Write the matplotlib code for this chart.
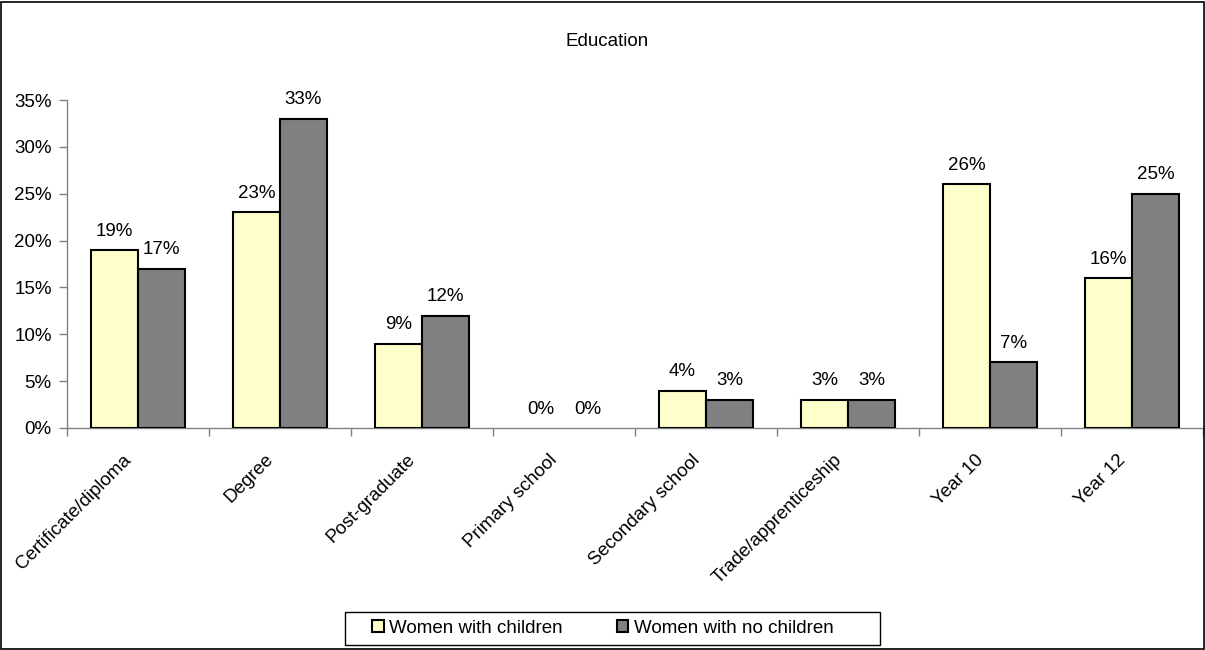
import matplotlib
matplotlib.use("Agg")
import matplotlib.pyplot as plt
from matplotlib.patches import Rectangle
import numpy as np

categories = ["Certificate/diploma", "Degree", "Post-graduate", "Primary school",
              "Secondary school", "Trade/apprenticeship", "Year 10", "Year 12"]
with_children = [19, 23, 9, 0, 4, 3, 26, 16]
no_children = [17, 33, 12, 0, 3, 3, 7, 25]
series_names = ["Women with children", "Women with no children"]
y_ticks = [0, 5, 10, 15, 20, 25, 30, 35]

plt.rcParams["font.family"] = ["Liberation Sans", "DejaVu Sans"]
FS = 13.5

W, H = 1205, 650
fig = plt.figure(figsize=(W / 100, H / 100), dpi=100)
fig.patch.set_facecolor("white")

# outer chart border
fig.add_artist(Rectangle((0.5 / W, 1.5 / H), (W - 2) / W, (H - 3) / H,
                         transform=fig.transFigure, fill=False,
                         edgecolor="black", linewidth=1.2))

ax = fig.add_axes([67 / W, (H - 428) / H, 1136 / W, 328 / H])

x = np.arange(len(categories))
bw = 0.33


def edge_widths(vals):
    return [1.5 if v > 0 else 0 for v in vals]


ax.bar(x - bw / 2, with_children, bw, color="#FFFFCC", edgecolor="black",
       linewidth=edge_widths(with_children), label=series_names[0], zorder=3)
ax.bar(x + bw / 2, no_children, bw, color="#808080", edgecolor="black",
       linewidth=edge_widths(no_children), label=series_names[1], zorder=3)

for xs, vals in ((x - bw / 2, with_children), (x + bw / 2, no_children)):
    for xi, v in zip(xs, vals):
        ax.annotate(f"{v}%", (xi, v), xytext=(0, 7.5), textcoords="offset points",
                    ha="center", va="bottom", fontsize=FS)

ax.set_xlim(-0.5, len(categories) - 0.5)
ax.set_ylim(0, 35)
ax.set_yticks(y_ticks)
ax.set_yticklabels([f"{t}%" for t in y_ticks], fontsize=FS)

ax.set_xticks(np.arange(len(categories) + 1) - 0.5)
ax.set_xticklabels([])
ax.tick_params(axis="both", direction="out", length=6, color="#808080", width=1)
ax.tick_params(axis="y", pad=5)

for xi, name in zip(x, categories):
    ax.annotate(name, (xi, 0), xytext=(-6.5, -21), textcoords="offset points",
                rotation=45, rotation_mode="anchor", ha="right", va="center",
                fontsize=FS, annotation_clip=False)

for s in ["top", "right"]:
    ax.spines[s].set_visible(False)
for s in ["left", "bottom"]:
    ax.spines[s].set_color("#808080")
    ax.spines[s].set_linewidth(1)

fig.text(607 / W, (H - 41) / H, "Education", ha="center", va="center", fontsize=FS)

# legend box
fig.add_artist(Rectangle((345 / W, (H - 645) / H), 535 / W, 33 / H,
                         transform=fig.transFigure, fill=False,
                         edgecolor="black", linewidth=1))
leg = fig.legend(loc="center", bbox_to_anchor=(603 / W, (H - 628.5) / H),
                 ncol=2, fontsize=FS, frameon=False,
                 handlelength=0.6, handleheight=0.6,
                 handletextpad=0.3, columnspacing=2.9, borderpad=0)

fig.savefig("out.png", dpi=100)
